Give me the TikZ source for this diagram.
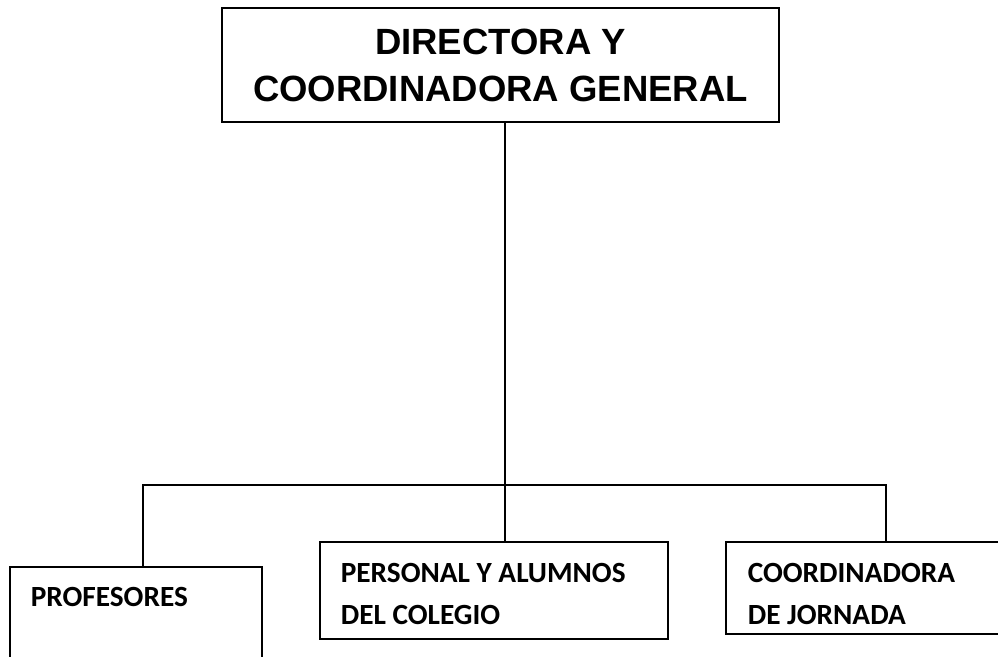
\documentclass[tikz,border=0pt]{standalone}
\usepackage{fontspec}
\setmainfont{Liberation Sans}
\newfontfamily\calib{Carlito}
\begin{document}
\begin{tikzpicture}[x=1pt,y=-1pt,line width=1.6pt,
    box/.style={draw,anchor=north west,inner sep=0pt},
    txt/.style={anchor=north west,inner sep=0pt,align=left,font=\calib\bfseries\fontsize{29.3}{42}\selectfont}]
        \useasboundingbox (0,0) rectangle (998,656);
        \clip (0,0) rectangle (998,656);
        \node[draw,minimum width=557pt,minimum height=114pt,align=center,font=\bfseries\fontsize{36.5}{47}\selectfont] (D) at (500.5,65) {DIRECTORA Y\\COORDINADORA GENERAL};

        \node[box,minimum width=252pt,minimum height=150pt] (P) at (9,566) {};
        \node[box,minimum width=348pt,minimum height=97pt]  (A) at (319,541) {};
        \node[box,minimum width=300pt,minimum height=92pt]  (J) at (725,541) {};

        \node[txt] (p) at (30,586)  {PROFESORES};
        \node[txt] (a) at (340,562) {PERSONAL Y ALUMNOS\\DEL COLEGIO};
        \node[txt] (j) at (747,562) {COORDINADORA\\DE JORNADA};

        \coordinate (L) at (143,485);
        \coordinate (M) at (505,485);
        \coordinate (R) at (886,485);

        \draw (D.south -| M) -- (M |- A.north);
        \draw (L |- P.north) -- (L) -- (R) -- (R |- J.north);
      \end{tikzpicture}
\end{document}
